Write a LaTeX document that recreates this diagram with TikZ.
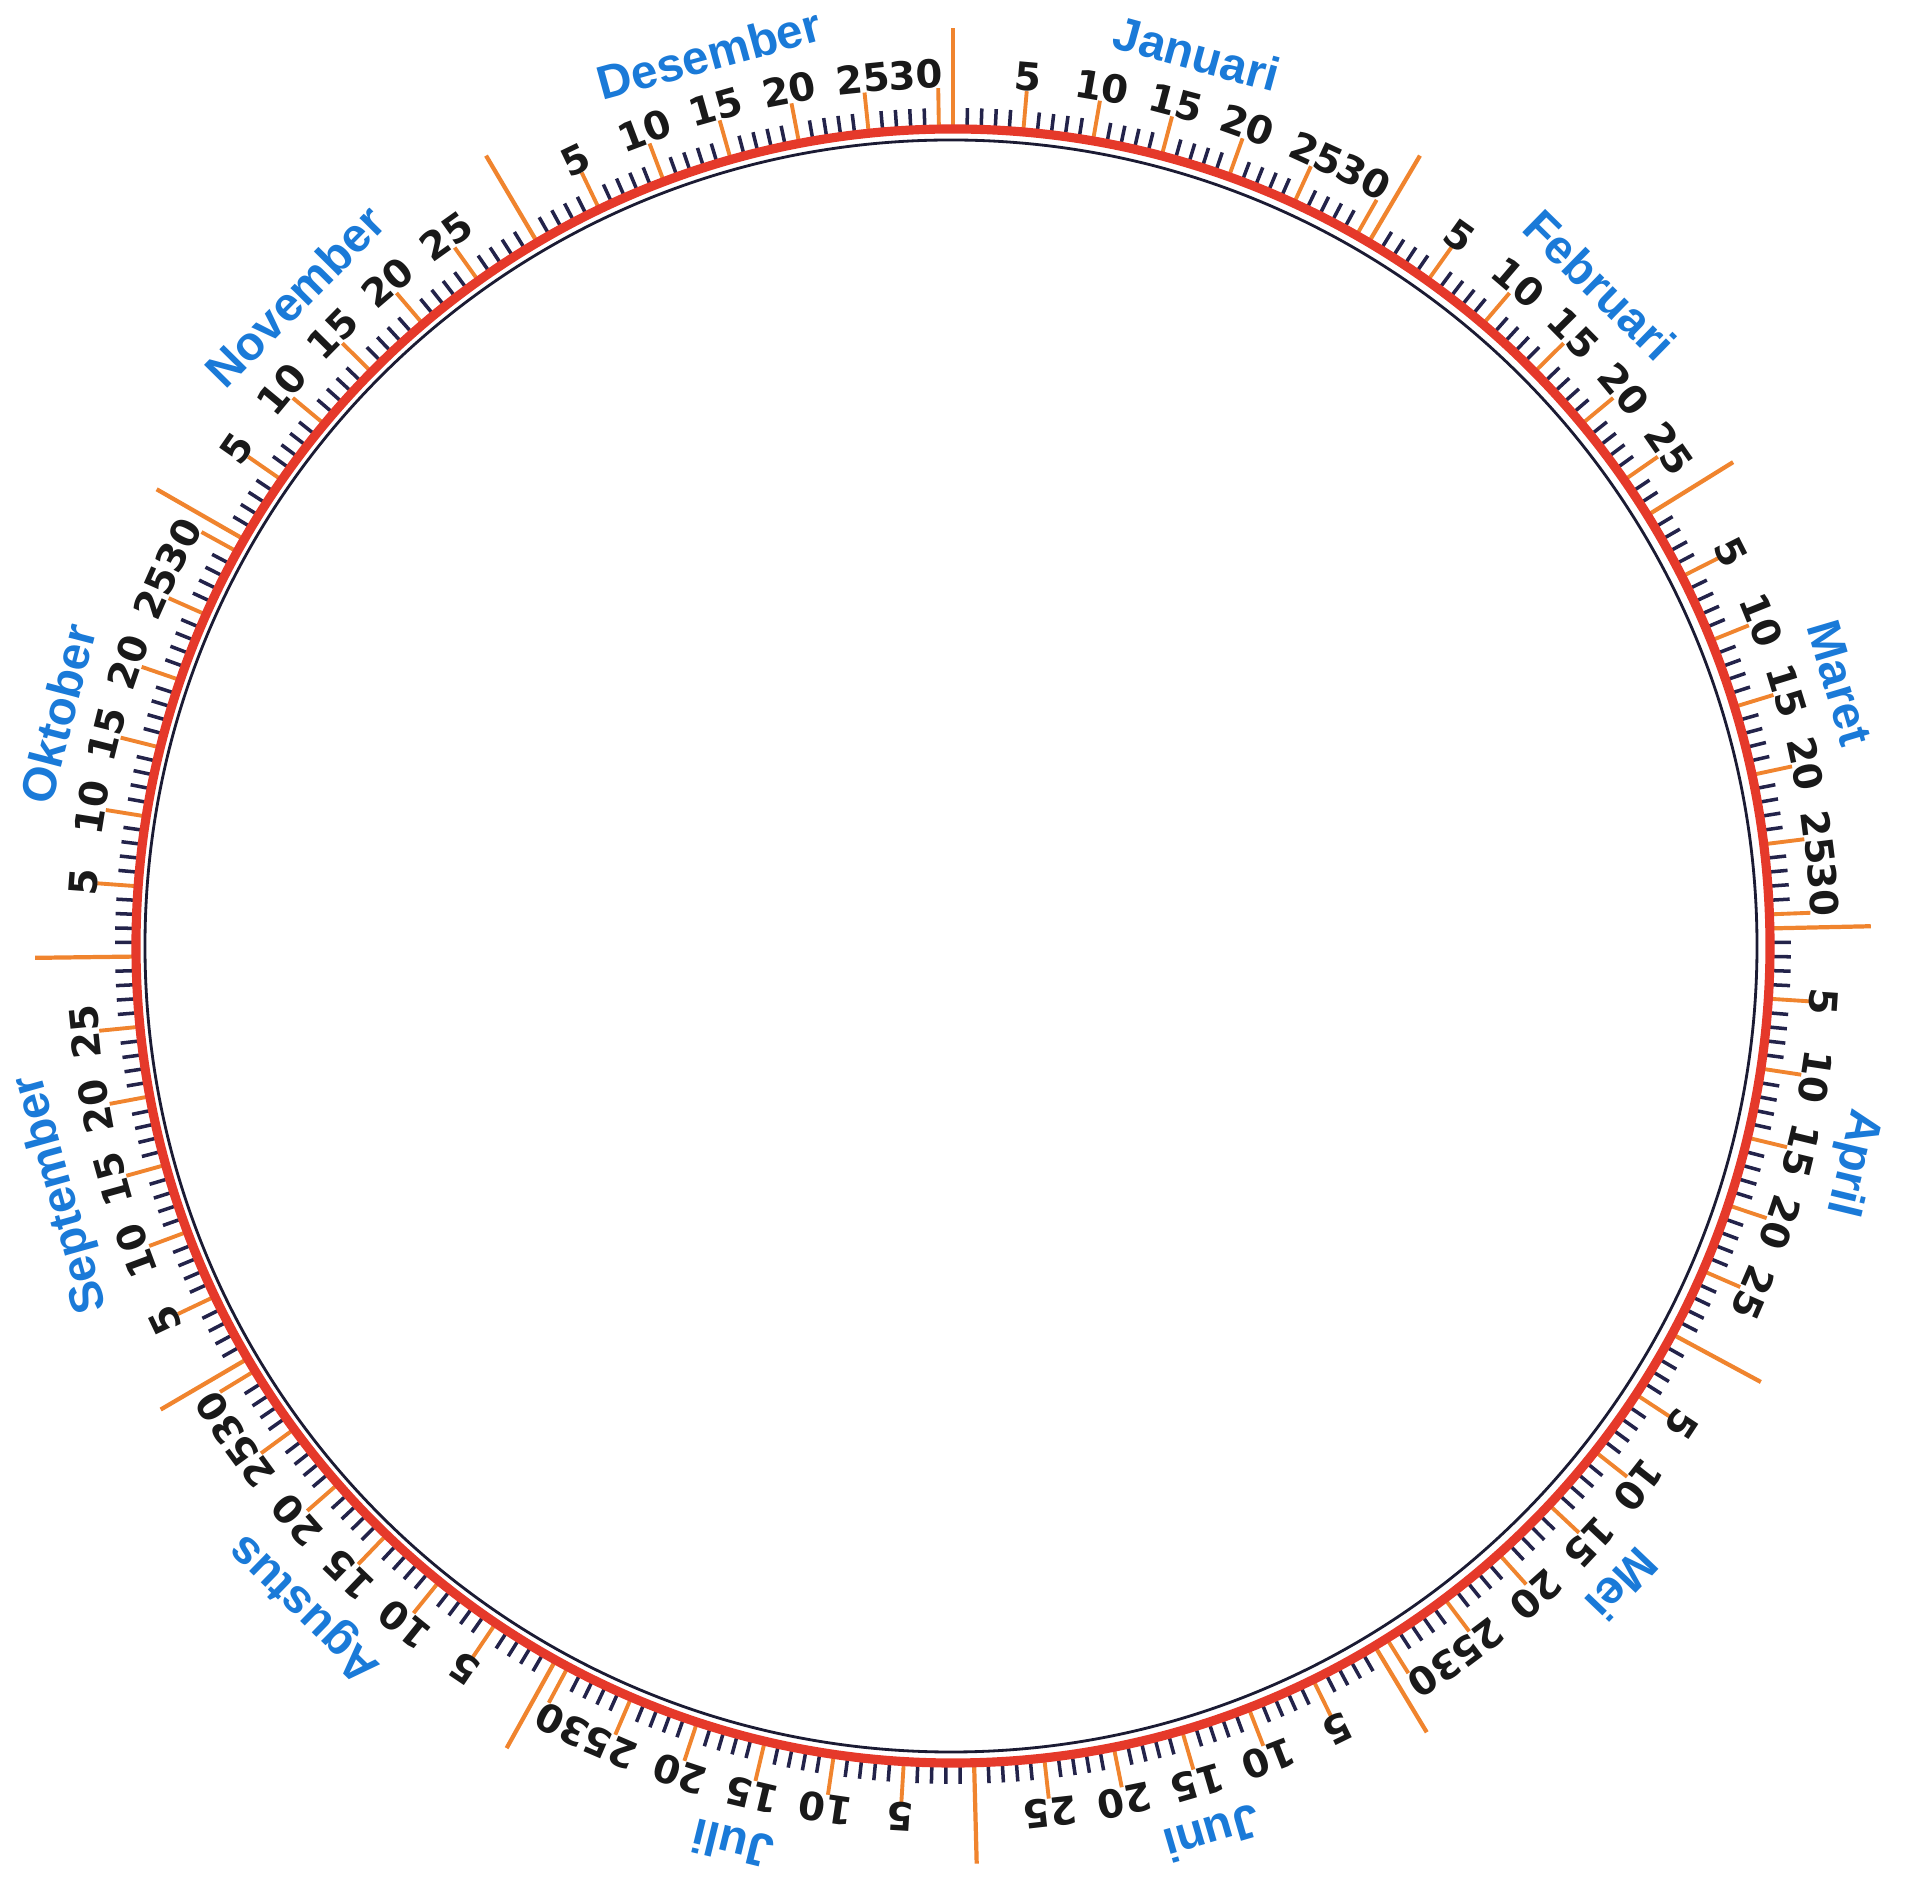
\documentclass[tikz,border=0pt]{standalone}
\usepackage{fontspec}
\setmainfont{Liberation Sans}
\newfontfamily\numfont{DejaVu Sans}
\definecolor{rimred}{HTML}{E5392A}
\definecolor{rimdark}{HTML}{1B1B33}
\definecolor{tickorange}{HTML}{F0842E}
\definecolor{ticknavy}{HTML}{23234A}
\definecolor{monthblue}{HTML}{1A7AD8}
\begin{document}
\begin{tikzpicture}[x=0.01cm, y=0.01cm,
        rim/.style={draw=rimred, line width=2.6pt},
        innerrim/.style={draw=rimdark, line width=0.8pt},
        daytick/.style={draw=ticknavy, line width=1pt},
        fivetick/.style={draw=tickorange, line width=1.1pt},
        monthline/.style={draw=tickorange, line width=1.2pt},
        daynum/.style={font=\numfont\bfseries\fontsize{11}{11}\selectfont, text=black!90, inner sep=0pt},
        monthname/.style={font=\bfseries\fontsize{13.5}{14}\selectfont, text=monthblue, inner sep=0pt}
    ]
    \useasboundingbox (-953,-958) rectangle (951,946);
    \fill[white] (-953,-958) rectangle (951,946);
    \coordinate (c) at (0,0);

    % one pass per month: separator, day ticks, numbers, name
    \foreach \name/\start/\len [count=\i] in {Januari/0/31, Februari/31/28, Maret/59/31,
            April/90/30, Mei/120/31, Juni/151/30, Juli/181/31, Agustus/212/31,
            September/243/30, Oktober/273/31, November/304/30, Desember/334/31}{
        \pgfmathsetmacro\sa{90-0.986301*\start}
        \draw[monthline] (\sa:821) -- (\sa:918);
        \pgfmathtruncatemacro\lastday{\len-1}
        \foreach \dd in {1,...,\lastday}{
            \pgfmathsetmacro\ang{90-0.986301*(\start+\dd)}
            \pgfmathtruncatemacro\rem{mod(\dd,5)}
            \ifnum\rem=0
                \draw[fivetick] (\ang:821) -- (\ang:858);
                % the 30 sits pulled back against the 25
                \pgfmathsetmacro\nang{90-0.986301*(\start+\dd-(\dd==30)*1.5)}
                \node[daynum, rotate=\nang-90] (n\i-\dd) at (\nang:872) {\dd};
            \else
                \draw[daytick] (\ang:821) -- (\ang:838);
            \fi
        }
        \pgfmathsetmacro\ma{90-0.986301*(\start+\len/2)}
        \node[monthname, rotate=\ma-90] (m\i) at (\ma:925) {\name};
    }

    \draw[innerrim] ([xshift=-0.02cm]c) circle (806);
    \draw[rim] (c) circle (817);
\end{tikzpicture}
\end{document}
